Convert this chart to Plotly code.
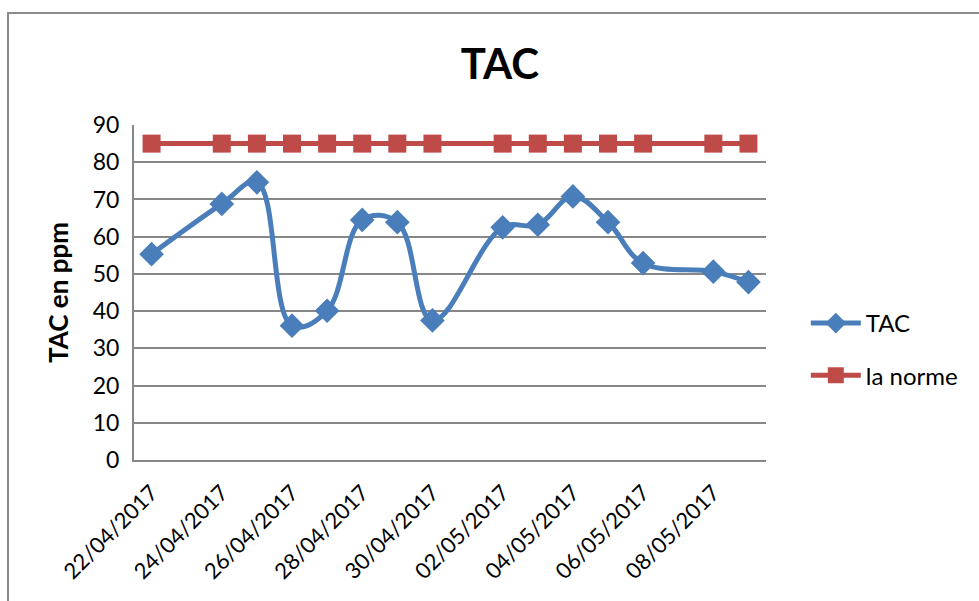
import plotly.graph_objects as go

dates = ["2017-04-22", "2017-04-24", "2017-04-25", "2017-04-26", "2017-04-27",
         "2017-04-28", "2017-04-29", "2017-04-30", "2017-05-02", "2017-05-03",
         "2017-05-04", "2017-05-05", "2017-05-06", "2017-05-08", "2017-05-09"]
tac = [55.3, 68.8, 74.6, 36.1, 40.1, 64.5, 63.9, 37.5, 62.5, 63.2, 70.8, 63.9, 52.9, 50.6, 47.8]
norme = [85] * len(dates)
tick_dates = ["2017-04-22", "2017-04-24", "2017-04-26", "2017-04-28", "2017-04-30",
              "2017-05-02", "2017-05-04", "2017-05-06", "2017-05-08"]

FONT = "Lato"
BLUE = "#4A7EBB"
RED = "#BE4B48"
GRID = "#878787"

fig = go.Figure()
fig.add_trace(go.Scatter(
    x=dates, y=tac, name="TAC", mode="lines+markers", legendgroup="a",
    line=dict(color=BLUE, width=5, shape="spline", smoothing=1.1),
    marker=dict(symbol="diamond", size=19, color=BLUE),
))
fig.add_trace(go.Scatter(
    x=dates, y=norme, name="la norme", mode="lines+markers", legendgroup="b",
    line=dict(color=RED, width=5),
    marker=dict(symbol="square", size=18, color=RED),
))

fig.update_layout(
    width=979, height=601,
    margin=dict(l=134, r=213, t=125, b=141),
    paper_bgcolor="white", plot_bgcolor="white",
    font=dict(family=FONT, color="black", size=21),
    title=dict(text="<b>TAC</b>", x=(500 - 134) / 632, xref="paper", xanchor="center",
               y=1 - 64 / 601, yanchor="middle", yref="container",
               font=dict(family=FONT, size=42, color="black")),
    showlegend=True,
    legend=dict(x=1.063, y=0.33, xanchor="left", yanchor="middle",
                font=dict(family=FONT, size=24, color="black"),
                traceorder="grouped", tracegroupgap=18, itemwidth=50,
                bgcolor="rgba(0,0,0,0)"),
    shapes=[dict(type="rect", xref="paper", yref="paper",
                 x0=(8 - 134) / 632, x1=1.4, y0=-1, y1=(460 - 13) / 335,
                 line=dict(color="#8a8a8a", width=2), fillcolor="rgba(0,0,0,0)", layer="below")],
)

fig.update_xaxes(
    type="date", range=["2017-04-21 12:00", "2017-05-09 12:00"],
    tickvals=tick_dates, tickformat="%d/%m/%Y", tickangle=-45,
    tickfont=dict(family=FONT, size=22, color="black"),
    showgrid=False, showline=True, linecolor=GRID, linewidth=2,
    ticks="", zeroline=False, ticklabelstandoff=9,
)
fig.update_yaxes(
    range=[0, 90], dtick=10, tick0=0,
    tickfont=dict(family=FONT, size=23, color="black"),
    showgrid=True, gridcolor=GRID, gridwidth=2,
    showline=True, linecolor=GRID, linewidth=2, zeroline=False,
    ticks="", ticklabelstandoff=8,
    title=dict(text="<b>TAC en ppm</b>", font=dict(family=FONT, size=26, color="black"), standoff=17),
)

fig.write_html("out.html", config={"displayModeBar": False},
               post_script="document.body.style.margin='0';document.body.style.overflow='hidden';")
